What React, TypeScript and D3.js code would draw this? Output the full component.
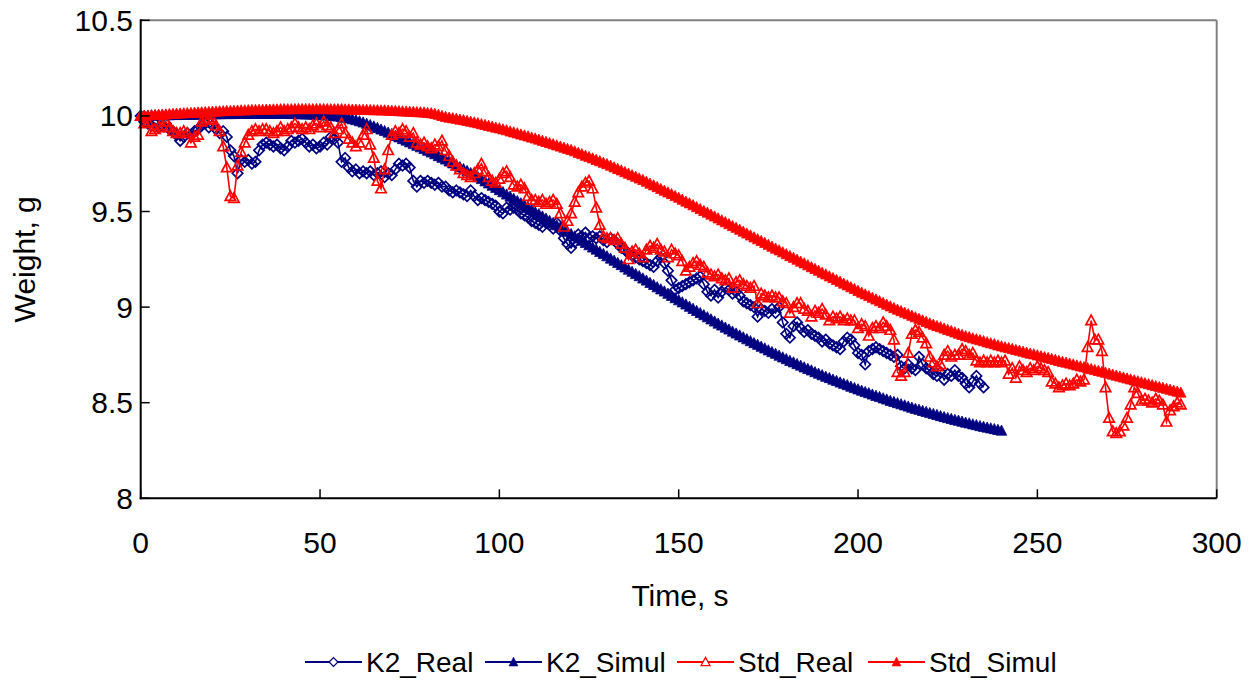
import React from "react";
import * as d3 from "d3";

// Time step of all series: 1 s, first value at t = 0
const TIME_STEP = 1;

const K2_REAL = [
  10.00, 9.97, 9.96, 9.95, 9.96, 9.94, 9.95, 9.96, 9.93, 9.92,
  9.90, 9.87, 9.89, 9.91, 9.90, 9.92, 9.93, 9.95, 9.96, 9.94,
  9.95, 9.93, 9.91, 9.92, 9.89, 9.82, 9.79, 9.70, 9.77, 9.76,
  9.77, 9.75, 9.76, 9.82, 9.85, 9.86, 9.85, 9.84, 9.85, 9.83,
  9.82, 9.84, 9.87, 9.86, 9.87, 9.88, 9.86, 9.84, 9.85, 9.83,
  9.84, 9.86, 9.85, 9.89, 9.88, 9.86, 9.76, 9.78, 9.73, 9.71,
  9.72, 9.70, 9.71, 9.70, 9.71, 9.69, 9.70, 9.71, 9.68, 9.70,
  9.69, 9.72, 9.75, 9.74, 9.75, 9.73, 9.66, 9.63, 9.66, 9.65,
  9.66, 9.65, 9.64, 9.65, 9.63, 9.63, 9.61, 9.60, 9.61, 9.60,
  9.59, 9.58, 9.61, 9.58, 9.56, 9.57, 9.56, 9.55, 9.54, 9.53,
  9.50, 9.49, 9.52, 9.51, 9.52, 9.51, 9.49, 9.48, 9.47, 9.45,
  9.44, 9.43, 9.42, 9.44, 9.43, 9.41, 9.44, 9.40, 9.36, 9.33,
  9.31, 9.34, 9.38, 9.37, 9.39, 9.36, 9.37, 9.36, 9.37, 9.35,
  9.34, 9.36, 9.35, 9.33, 9.31, 9.30, 9.28, 9.27, 9.26, 9.25,
  9.24, 9.23, 9.22, 9.21, 9.24, 9.26, 9.23, 9.19, 9.14, 9.09,
  9.10, 9.11, 9.12, 9.13, 9.14, 9.15, 9.16, 9.12, 9.08, 9.06,
  9.09, 9.05, 9.08, 9.10, 9.09, 9.07, 9.08, 9.06, 9.03, 9.02,
  9.01, 9.00, 8.95, 8.99, 8.98, 8.97, 8.99, 8.97, 9.00, 8.92,
  8.86, 8.84, 8.90, 8.92, 8.89, 8.87, 8.88, 8.86, 8.85, 8.84,
  8.82, 8.83, 8.81, 8.80, 8.79, 8.78, 8.82, 8.84, 8.83, 8.80,
  8.76, 8.75, 8.70, 8.77, 8.78, 8.79, 8.78, 8.77, 8.76, 8.75,
  8.74, 8.75, 8.69, 8.68, 8.70, 8.68, 8.67, 8.74, 8.70, 8.68,
  8.67, 8.65, 8.64, 8.66, 8.62, 8.65, 8.64, 8.67, 8.64, 8.63,
  8.60, 8.58, 8.61, 8.64, 8.60, 8.58,
];

const K2_SIMUL = [
  10.000, 10.001, 10.001, 10.002, 10.002, 10.003, 10.003, 10.004, 10.004, 10.005,
  10.005, 10.005, 10.006, 10.006, 10.007, 10.007, 10.007, 10.008, 10.008, 10.009,
  10.009, 10.009, 10.009, 10.010, 10.010, 10.010, 10.010, 10.011, 10.011, 10.011,
  10.011, 10.011, 10.011, 10.011, 10.011, 10.011, 10.011, 10.011, 10.011, 10.011,
  10.011, 10.011, 10.010, 10.010, 10.009, 10.009, 10.008, 10.008, 10.007, 10.006,
  10.005, 10.004, 10.002, 10.001, 9.999, 9.997, 9.994, 9.991, 9.987, 9.983,
  9.978, 9.972, 9.966, 9.959, 9.952, 9.945, 9.937, 9.929, 9.921, 9.913,
  9.905, 9.896, 9.888, 9.879, 9.871, 9.862, 9.853, 9.844, 9.836, 9.827,
  9.818, 9.809, 9.800, 9.790, 9.781, 9.772, 9.762, 9.752, 9.742, 9.732,
  9.722, 9.712, 9.701, 9.691, 9.680, 9.670, 9.658, 9.647, 9.635, 9.624,
  9.612, 9.601, 9.589, 9.578, 9.566, 9.555, 9.543, 9.532, 9.520, 9.509,
  9.497, 9.486, 9.474, 9.463, 9.451, 9.440, 9.428, 9.417, 9.405, 9.394,
  9.382, 9.370, 9.359, 9.347, 9.336, 9.324, 9.312, 9.301, 9.289, 9.278,
  9.266, 9.254, 9.243, 9.231, 9.220, 9.208, 9.196, 9.185, 9.173, 9.162,
  9.150, 9.139, 9.127, 9.116, 9.104, 9.093, 9.082, 9.070, 9.059, 9.047,
  9.036, 9.025, 9.014, 9.002, 8.991, 8.980, 8.969, 8.958, 8.947, 8.936,
  8.925, 8.914, 8.904, 8.893, 8.883, 8.872, 8.862, 8.852, 8.842, 8.832,
  8.822, 8.812, 8.803, 8.793, 8.784, 8.774, 8.765, 8.756, 8.746, 8.737,
  8.728, 8.719, 8.711, 8.702, 8.694, 8.685, 8.677, 8.669, 8.660, 8.652,
  8.644, 8.636, 8.629, 8.621, 8.614, 8.606, 8.599, 8.592, 8.584, 8.577,
  8.570, 8.563, 8.556, 8.550, 8.543, 8.536, 8.530, 8.523, 8.517, 8.510,
  8.504, 8.498, 8.492, 8.486, 8.480, 8.474, 8.468, 8.463, 8.457, 8.452,
  8.446, 8.441, 8.436, 8.430, 8.425, 8.420, 8.415, 8.410, 8.406, 8.401,
  8.396, 8.392, 8.387, 8.383, 8.378, 8.374, 8.370, 8.366, 8.362, 8.358,
  8.354,
];

const STD_REAL = [
  10.00, 9.96, 9.97, 9.92, 9.93, 9.94, 9.95, 9.97, 9.94, 9.92,
  9.91, 9.91, 9.92, 9.91, 9.86, 9.89, 9.90, 9.97, 9.98, 9.99,
  9.98, 9.95, 9.92, 9.84, 9.73, 9.58, 9.57, 9.74, 9.81, 9.86,
  9.90, 9.92, 9.93, 9.92, 9.93, 9.93, 9.92, 9.91, 9.92, 9.94,
  9.92, 9.93, 9.94, 9.96, 9.94, 9.93, 9.94, 9.93, 9.95, 9.96,
  9.94, 9.97, 9.95, 9.94, 9.91, 9.93, 9.96, 9.91, 9.88, 9.86,
  9.84, 9.86, 9.90, 9.93, 9.85, 9.78, 9.66, 9.62, 9.72, 9.82,
  9.90, 9.92, 9.91, 9.93, 9.92, 9.89, 9.91, 9.86, 9.85, 9.86,
  9.84, 9.83, 9.85, 9.84, 9.87, 9.82, 9.79, 9.76, 9.74, 9.72,
  9.70, 9.69, 9.68, 9.70, 9.72, 9.75, 9.71, 9.68, 9.66, 9.65,
  9.67, 9.70, 9.71, 9.68, 9.64, 9.63, 9.64, 9.62, 9.58, 9.56,
  9.56, 9.55, 9.56, 9.54, 9.55, 9.56, 9.54, 9.49, 9.42, 9.45,
  9.49, 9.55, 9.60, 9.63, 9.65, 9.66, 9.62, 9.52, 9.43, 9.37,
  9.36, 9.36, 9.35, 9.36, 9.33, 9.31, 9.25, 9.29, 9.30, 9.28,
  9.26, 9.30, 9.32, 9.31, 9.33, 9.30, 9.29, 9.26, 9.30, 9.28,
  9.27, 9.24, 9.19, 9.21, 9.23, 9.24, 9.22, 9.21, 9.18, 9.17,
  9.16, 9.17, 9.15, 9.14, 9.15, 9.10, 9.13, 9.14, 9.12, 9.11,
  9.10, 9.11, 9.02, 9.07, 9.06, 9.05, 9.06, 9.05, 9.05, 9.03,
  9.02, 8.97, 9.00, 9.02, 9.02, 8.99, 8.98, 8.95, 8.98, 8.97,
  8.99, 8.96, 8.93, 8.95, 8.94, 8.95, 8.93, 8.94, 8.93, 8.93,
  8.89, 8.91, 8.90, 8.85, 8.89, 8.90, 8.89, 8.92, 8.90, 8.88,
  8.83, 8.66, 8.64, 8.66, 8.76, 8.86, 8.88, 8.87, 8.84, 8.81,
  8.74, 8.71, 8.69, 8.70, 8.75, 8.77, 8.74, 8.75, 8.75, 8.78,
  8.77, 8.75, 8.76, 8.72, 8.71, 8.72, 8.71, 8.72, 8.71, 8.72,
  8.71, 8.72, 8.65, 8.68, 8.63, 8.69, 8.67, 8.66, 8.68, 8.67,
  8.69, 8.68, 8.67, 8.66, 8.61, 8.60, 8.58, 8.59, 8.60, 8.59,
  8.60, 8.62, 8.61, 8.62, 8.79, 8.93, 8.83, 8.83, 8.77, 8.58,
  8.42, 8.35, 8.34, 8.35, 8.38, 8.42, 8.49, 8.58, 8.55, 8.51,
  8.52, 8.51, 8.50, 8.52, 8.51, 8.49, 8.40, 8.46, 8.48, 8.50,
  8.49,
];

const STD_SIMUL = [
  10.000, 10.001, 10.002, 10.004, 10.005, 10.006, 10.007, 10.008, 10.010, 10.011,
  10.012, 10.013, 10.014, 10.015, 10.016, 10.017, 10.018, 10.019, 10.020, 10.021,
  10.022, 10.023, 10.024, 10.025, 10.026, 10.026, 10.027, 10.028, 10.029, 10.029,
  10.030, 10.031, 10.031, 10.032, 10.032, 10.033, 10.033, 10.034, 10.034, 10.035,
  10.035, 10.035, 10.035, 10.036, 10.036, 10.036, 10.036, 10.036, 10.036, 10.036,
  10.036, 10.036, 10.036, 10.035, 10.035, 10.035, 10.035, 10.034, 10.034, 10.033,
  10.033, 10.032, 10.032, 10.031, 10.031, 10.030, 10.030, 10.029, 10.029, 10.028,
  10.027, 10.026, 10.025, 10.024, 10.023, 10.022, 10.021, 10.020, 10.019, 10.018,
  10.016, 10.014, 10.011, 10.006, 10.000, 9.995, 9.991, 9.988, 9.985, 9.981,
  9.978, 9.974, 9.970, 9.966, 9.962, 9.957, 9.953, 9.948, 9.944, 9.939,
  9.935, 9.930, 9.925, 9.919, 9.914, 9.909, 9.903, 9.898, 9.893, 9.887,
  9.882, 9.876, 9.870, 9.864, 9.858, 9.852, 9.846, 9.840, 9.834, 9.828,
  9.822, 9.815, 9.807, 9.800, 9.792, 9.785, 9.778, 9.770, 9.763, 9.755,
  9.748, 9.740, 9.731, 9.723, 9.715, 9.706, 9.698, 9.690, 9.682, 9.673,
  9.665, 9.656, 9.646, 9.637, 9.628, 9.618, 9.609, 9.600, 9.591, 9.581,
  9.572, 9.562, 9.552, 9.543, 9.533, 9.523, 9.513, 9.503, 9.494, 9.484,
  9.474, 9.464, 9.454, 9.444, 9.434, 9.424, 9.415, 9.405, 9.395, 9.385,
  9.375, 9.365, 9.355, 9.346, 9.336, 9.326, 9.316, 9.306, 9.297, 9.287,
  9.277, 9.267, 9.258, 9.248, 9.238, 9.229, 9.219, 9.209, 9.200, 9.190,
  9.180, 9.171, 9.161, 9.152, 9.142, 9.133, 9.123, 9.114, 9.104, 9.095,
  9.085, 9.076, 9.067, 9.058, 9.049, 9.040, 9.031, 9.022, 9.013, 9.004,
  8.995, 8.987, 8.979, 8.971, 8.963, 8.955, 8.947, 8.939, 8.931, 8.923,
  8.915, 8.908, 8.901, 8.895, 8.888, 8.881, 8.875, 8.868, 8.861, 8.855,
  8.848, 8.843, 8.837, 8.832, 8.827, 8.822, 8.816, 8.811, 8.806, 8.800,
  8.795, 8.790, 8.786, 8.781, 8.776, 8.772, 8.767, 8.762, 8.757, 8.753,
  8.748, 8.743, 8.738, 8.734, 8.729, 8.724, 8.719, 8.714, 8.710, 8.705,
  8.700, 8.695, 8.690, 8.686, 8.681, 8.676, 8.671, 8.666, 8.662, 8.657,
  8.652, 8.647, 8.642, 8.637, 8.632, 8.627, 8.622, 8.617, 8.612, 8.607,
  8.602, 8.597, 8.592, 8.587, 8.582, 8.578, 8.573, 8.568, 8.563, 8.558,
  8.553,
];

const SERIES_NAMES = ["K2_Real", "K2_Simul", "Std_Real", "Std_Simul"];
const X_TICKS = [0, 50, 100, 150, 200, 250, 300];
const Y_TICKS = [8, 8.5, 9, 9.5, 10, 10.5];
const X_TITLE = "Time, s";
const Y_TITLE = "Weight, g";

const NAVY = "#000080";
const RED = "#FF0000";
const FONT = "'Liberation Sans', Arial, sans-serif";

const W = 1256;
const H = 681;
const PLOT = { left: 140.7, right: 1216.7, top: 20.3, bottom: 498.3 };

const DIAMOND = "M0,-5.2L5.2,0L0,5.2L-5.2,0Z";
const TRI_OPEN = "M0,-5.4L5.2,4.2L-5.2,4.2Z";
const TRI_FILL = "M0,-5.6L5.2,4.6L-5.2,4.6Z";

type Pt = { t: number; v: number };
const toPts = (arr: number[]): Pt[] => arr.map((v, i) => ({ t: i * TIME_STEP, v }));

export default function App() {
  const x = d3.scaleLinear().domain([0, 300]).range([PLOT.left, PLOT.right]);
  const y = d3.scaleLinear().domain([8, 10.5]).range([PLOT.bottom, PLOT.top]);
  const line = d3
    .line<Pt>()
    .x((d) => x(d.t))
    .y((d) => y(d.v));

  const series = [
    { name: SERIES_NAMES[0], data: toPts(K2_REAL), color: NAVY, shape: DIAMOND, filled: false },
    { name: SERIES_NAMES[1], data: toPts(K2_SIMUL), color: NAVY, shape: TRI_FILL, filled: true },
    { name: SERIES_NAMES[2], data: toPts(STD_REAL), color: RED, shape: TRI_OPEN, filled: false },
    { name: SERIES_NAMES[3], data: toPts(STD_SIMUL), color: RED, shape: TRI_FILL, filled: true },
  ];

  const legendX = [305, 485, 677, 868];
  const legendY = 662;

  return (
    <div style={{ position: "fixed", left: 0, top: 0, width: W, height: H, background: "#fff" }}>
      <svg width={W} height={H} style={{ display: "block", fontFamily: FONT }}>
        <rect x={0} y={0} width={W} height={H} fill="#fff" />
        {/* plot border: top & right gray */}
        <line x1={PLOT.left} x2={PLOT.right} y1={PLOT.top} y2={PLOT.top} stroke="#808080" strokeWidth={2} />
        <line x1={PLOT.right} x2={PLOT.right} y1={PLOT.top} y2={PLOT.bottom} stroke="#808080" strokeWidth={2} />

        {/* series */}
        {series.map((s) => (
          <g key={s.name}>
            <path d={line(s.data) || ""} fill="none" stroke={s.color} strokeWidth={1.6} />
            {s.data.map((d, i) => (
              <path
                key={i}
                d={s.shape}
                transform={`translate(${x(d.t)},${y(d.v)})`}
                fill={s.filled ? s.color : "none"}
                stroke={s.color}
                strokeWidth={s.filled ? 0.8 : 1.7}
              />
            ))}
          </g>
        ))}

        {/* axes */}
        <line x1={PLOT.left} x2={PLOT.left} y1={PLOT.top - 1} y2={PLOT.bottom + 1} stroke="#000" strokeWidth={2} />
        <line x1={PLOT.left - 1} x2={PLOT.right} y1={PLOT.bottom} y2={PLOT.bottom} stroke="#000" strokeWidth={2} />
        {Y_TICKS.map((t) => (
          <g key={"y" + t}>
            <line x1={PLOT.left} x2={PLOT.left + 9} y1={y(t)} y2={y(t)} stroke="#000" strokeWidth={1.5} />
            <text x={133} y={y(t)} textAnchor="end" dominantBaseline="central" fontSize={30} fill="#000">
              {t}
            </text>
          </g>
        ))}
        {X_TICKS.map((t) => (
          <g key={"x" + t}>
            <line x1={x(t)} x2={x(t)} y1={PLOT.bottom} y2={PLOT.bottom - 9} stroke="#000" strokeWidth={1.5} />
            <text x={x(t)} y={553} textAnchor="middle" fontSize={30} fill="#000">
              {t}
            </text>
          </g>
        ))}
        <text x={680} y={606} textAnchor="middle" fontSize={30} fill="#000">
          {X_TITLE}
        </text>
        <text
          transform={`translate(35,${(PLOT.top + PLOT.bottom) / 2}) rotate(-90)`}
          textAnchor="middle"
          fontSize={30}
          fill="#000"
        >
          {Y_TITLE}
        </text>

        {/* legend */}
        {series.map((s, i) => (
          <g key={"lg" + s.name} transform={`translate(${legendX[i]},${legendY})`}>
            <line x1={0} x2={57} y1={0} y2={0} stroke={s.color} strokeWidth={2} />
            <path
              d={s.shape}
              transform="translate(28.5,0) scale(0.85)"
              fill={s.filled ? s.color : "#fff"}
              stroke={s.color}
              strokeWidth={s.filled ? 0.8 : 1.5}
            />
            <text x={61} y={0} dominantBaseline="central" fontSize={28} fill="#000">
              {s.name}
            </text>
          </g>
        ))}
      </svg>
    </div>
  );
}
